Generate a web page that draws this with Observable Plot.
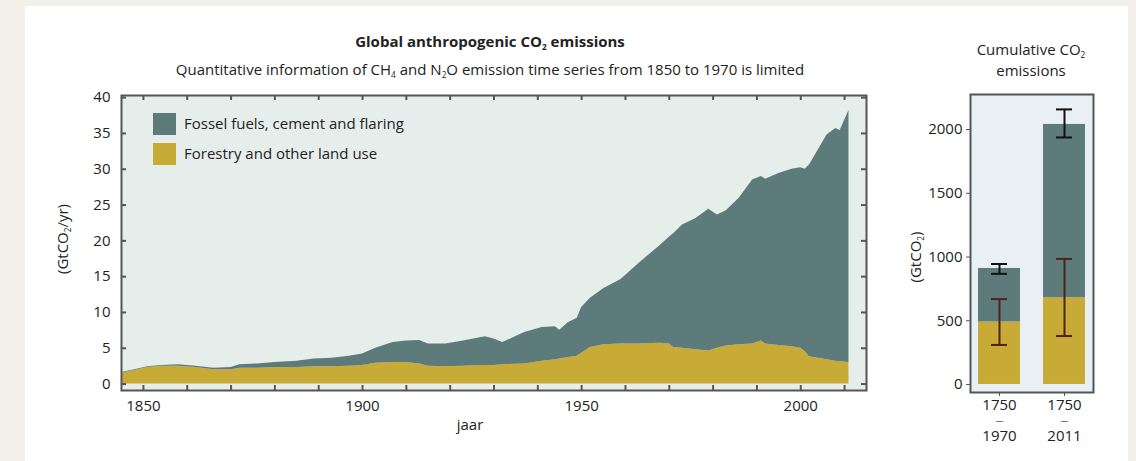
<!DOCTYPE html>
<html>
<head>
<meta charset="utf-8">
<script src="https://cdn.jsdelivr.net/npm/d3@7"></script>
<script src="https://cdn.jsdelivr.net/npm/@observablehq/plot@0.6"></script>
<style>
  html, body { margin: 0; padding: 0; background: #f3f0eb; width: 1136px; height: 461px; overflow: hidden; font-family: "Open Sans", sans-serif; color: #222; }
  #panel { position: absolute; left: 25px; top: 6px; width: 1103px; height: 455px; background: #fff; }
  .abs { position: absolute; }
  .txt { position: absolute; white-space: nowrap; color: #222; }
  sub { font-size: 0.55em; vertical-align: -0.35em; line-height: 0; }
  .sw { position: absolute; width: 23px; height: 22px; }
</style>
</head>
<body>
<div id="panel"></div>
<div id="main" class="abs" style="left:0;top:0"></div>
<div id="cum" class="abs" style="left:880px;top:0"></div>

<div class="txt" style="left:0;width:980px;top:31px;text-align:center;font-weight:700;font-size:15px;">Global anthropogenic CO<sub>2</sub> emissions</div>
<div class="txt" style="left:0;width:980px;top:59px;text-align:center;font-size:15px;">Quantitative information of CH<sub>4</sub> and N<sub>2</sub>O emission time series from 1850 to 1970 is limited</div>
<div class="txt" style="left:960px;width:142px;top:39px;text-align:center;font-size:15px;">Cumulative CO<sub>2</sub></div>
<div class="txt" style="left:960px;width:142px;top:60px;text-align:center;font-size:15px;">emissions</div>
<div class="txt" style="left:17px;top:229px;width:90px;text-align:center;font-size:15px;transform:rotate(-90deg);">(GtCO<sub>2</sub>/yr)</div>
<div class="txt" style="left:870px;top:247px;width:90px;text-align:center;font-size:15px;transform:rotate(-90deg);">(GtCO<sub>2</sub>)</div>
<div class="txt" style="left:440px;width:60px;top:414px;text-align:center;font-size:15px;">jaar</div>

<div class="sw" id="sw1" style="left:153px;top:113px;"></div>
<div class="txt" style="left:184px;top:113px;font-size:15px;">Fossel fuels, cement and flaring</div>
<div class="sw" id="sw2" style="left:153px;top:143px;"></div>
<div class="txt" style="left:184px;top:143px;font-size:15px;">Forestry and other land use</div>

<script>
// ---- Data ----
const seriesNames = ["Forestry and other land use", "Fossel fuels, cement and flaring"];
const seriesColors = ["#c8aa36", "#5e7b7b"];

// Annual emissions, GtCO2/yr
const years = [1845,1848,1851,1854,1858,1862,1866,1870,1872,1876,1880,1885,1889,1893,1897,1900,1903,1907,1910,1913,1915,1919,1923,1928,1930,1932,1937,1941,1944,1945,1947,1949,1950,1952,1955,1959,1963,1968,1970,1971,1973,1976,1979,1981,1983,1986,1989,1991,1992,1995,1998,2000,2001,2002,2004,2006,2008,2009,2011];
const foluValues = [1.5,1.9,2.3,2.5,2.5,2.3,2.0,2.0,2.2,2.2,2.3,2.3,2.4,2.4,2.5,2.6,2.9,3.0,3.0,2.8,2.5,2.4,2.5,2.6,2.6,2.7,2.8,3.2,3.4,3.5,3.7,3.9,4.3,5.1,5.5,5.6,5.6,5.7,5.6,5.1,5.0,4.8,4.6,5.0,5.3,5.5,5.6,6.0,5.6,5.4,5.2,5.0,4.5,3.8,3.6,3.4,3.2,3.1,3.0];
const totalValues = [1.6,2.0,2.4,2.6,2.7,2.5,2.2,2.3,2.7,2.8,3.0,3.2,3.5,3.6,3.9,4.2,5.0,5.8,6.0,6.1,5.6,5.6,6.0,6.6,6.3,5.8,7.2,7.9,8.0,7.5,8.6,9.2,10.7,12.0,13.3,14.6,16.8,19.4,20.5,21.0,22.2,23.1,24.4,23.6,24.2,26.0,28.5,29.0,28.6,29.4,30.0,30.2,30.0,30.6,32.7,34.8,35.7,35.4,38.2];

// Cumulative emissions, GtCO2
const periods = ["1750–1970", "1750–2011"];
const periodStart = ["1750", "1750"];
const periodEnd = ["1970", "2011"];
const cumFolu = [490, 680];
const cumTotal = [910, 2040];
const foluErrLow = [310, 380];
const foluErrHigh = [670, 985];
const totalErrLow = [868, 1938];
const totalErrHigh = [945, 2158];

// Tick values
const mainYTicks = [0,5,10,15,20,25,30,35,40];
const mainXTicks = [1850,1860,1870,1880,1890,1900,1910,1920,1930,1940,1950,1960,1970,1980,1990,2000,2010];
const mainXLabels = [1850,1900,1950,2000];
const cumYTicks = [0,500,1000,1500,2000];

// ---- Build tables ----
const stackRows = [];
years.forEach((yr, i) => {
  stackRows.push({year: yr, series: seriesNames[0], value: foluValues[i]});
  stackRows.push({year: yr, series: seriesNames[1], value: totalValues[i] - foluValues[i]});
});
const cumRows = [];
periods.forEach((p, i) => {
  cumRows.push({period: p, series: seriesNames[0], value: cumFolu[i]});
  cumRows.push({period: p, series: seriesNames[1], value: cumTotal[i] - cumFolu[i]});
});
const errRows = periods.map((p, i) => ({period: p, fLo: foluErrLow[i], fHi: foluErrHigh[i], tLo: totalErrLow[i], tHi: totalErrHigh[i]}));

document.getElementById("sw1").style.background = seriesColors[1];
document.getElementById("sw2").style.background = seriesColors[0];

const xDom = [1845, 2015];
const yDom = [-0.9, 40.3];
const tickX = 1.15;   // inward tick length in years (~5px)
const tickY = 0.7;    // inward tick length in GtCO2 (~5px)
const frameColor = "#555";

const main = Plot.plot({
  width: 900, height: 440,
  marginLeft: 121, marginRight: 34, marginTop: 95, marginBottom: 50,
  style: {background: "transparent", fontFamily: "Open Sans", fontSize: "15px", color: "#222", overflow: "visible"},
  x: {domain: xDom, label: null},
  y: {domain: yDom, label: null},
  color: {domain: seriesNames, range: seriesColors},
  marks: [
    Plot.frame({fill: "#e6eeec"}),
    Plot.areaY(stackRows, {x: "year", y: "value", z: "series", fill: "series", order: seriesNames, curve: "linear"}),
    Plot.ruleX(mainXTicks, {x: d => d, y1: yDom[0], y2: yDom[0] + tickY, stroke: frameColor, strokeWidth: 2}),
    Plot.ruleX(mainXTicks, {x: d => d, y1: yDom[1], y2: yDom[1] - tickY, stroke: frameColor, strokeWidth: 2}),
    Plot.ruleY(mainYTicks, {y: d => d, x1: xDom[0], x2: xDom[0] + tickX, stroke: frameColor, strokeWidth: 2}),
    Plot.ruleY(mainYTicks, {y: d => d, x1: xDom[1], x2: xDom[1] - tickX, stroke: frameColor, strokeWidth: 2}),
    Plot.frame({stroke: frameColor, strokeWidth: 2}),
    Plot.axisX(mainXLabels, {tickSize: 0, tickPadding: 10, tickFormat: d => String(d), fontSize: 15, label: null}),
    Plot.axisY(mainYTicks, {tickSize: 0, tickPadding: 11, fontSize: 15, label: null})
  ]
});
document.getElementById("main").appendChild(main);

const cum = Plot.plot({
  width: 256, height: 461,
  marginLeft: 90, marginRight: 43, marginTop: 94, marginBottom: 69,
  style: {background: "transparent", fontFamily: "Open Sans", fontSize: "15px", color: "#222", overflow: "visible"},
  x: {domain: periods, paddingInner: 0.36, paddingOuter: 0.12, label: null},
  y: {domain: [-63, 2275], label: null},
  color: {domain: seriesNames, range: seriesColors},
  marks: [
    Plot.frame({fill: "#e8f0f5"}),
    Plot.barY(cumRows, {x: "period", y: "value", fill: "series", order: seriesNames}),
    Plot.ruleX(errRows, {x: "period", y1: "fLo", y2: "fHi", stroke: "#4a2418", strokeWidth: 2}),
    Plot.tickY(errRows, {x: "period", y: "fLo", stroke: "#4a2418", strokeWidth: 2, insetLeft: 13, insetRight: 13}),
    Plot.tickY(errRows, {x: "period", y: "fHi", stroke: "#4a2418", strokeWidth: 2, insetLeft: 13, insetRight: 13}),
    Plot.ruleX(errRows, {x: "period", y1: "tLo", y2: "tHi", stroke: "#111", strokeWidth: 2}),
    Plot.tickY(errRows, {x: "period", y: "tLo", stroke: "#111", strokeWidth: 2, insetLeft: 13, insetRight: 13}),
    Plot.tickY(errRows, {x: "period", y: "tHi", stroke: "#111", strokeWidth: 2, insetLeft: 13, insetRight: 13}),
    Plot.frame({stroke: frameColor, strokeWidth: 2}),
    Plot.axisX({tickSize: 4, tickPadding: 3, fontSize: 15, stroke: frameColor, label: null,
      tickFormat: p => periodStart[periods.indexOf(p)]}),
    Plot.axisX({tickSize: 0, tickPadding: 25, fontSize: 8, label: null,
      tickFormat: () => "—"}),
    Plot.axisX({tickSize: 0, tickPadding: 38, fontSize: 15, label: null,
      tickFormat: p => periodEnd[periods.indexOf(p)]}),
    Plot.axisY(cumYTicks, {tickSize: 4, tickPadding: 4, fontSize: 15, stroke: frameColor, tickFormat: d => String(d), label: null})
  ]
});
document.getElementById("cum").appendChild(cum);
</script>
</body>
</html>
